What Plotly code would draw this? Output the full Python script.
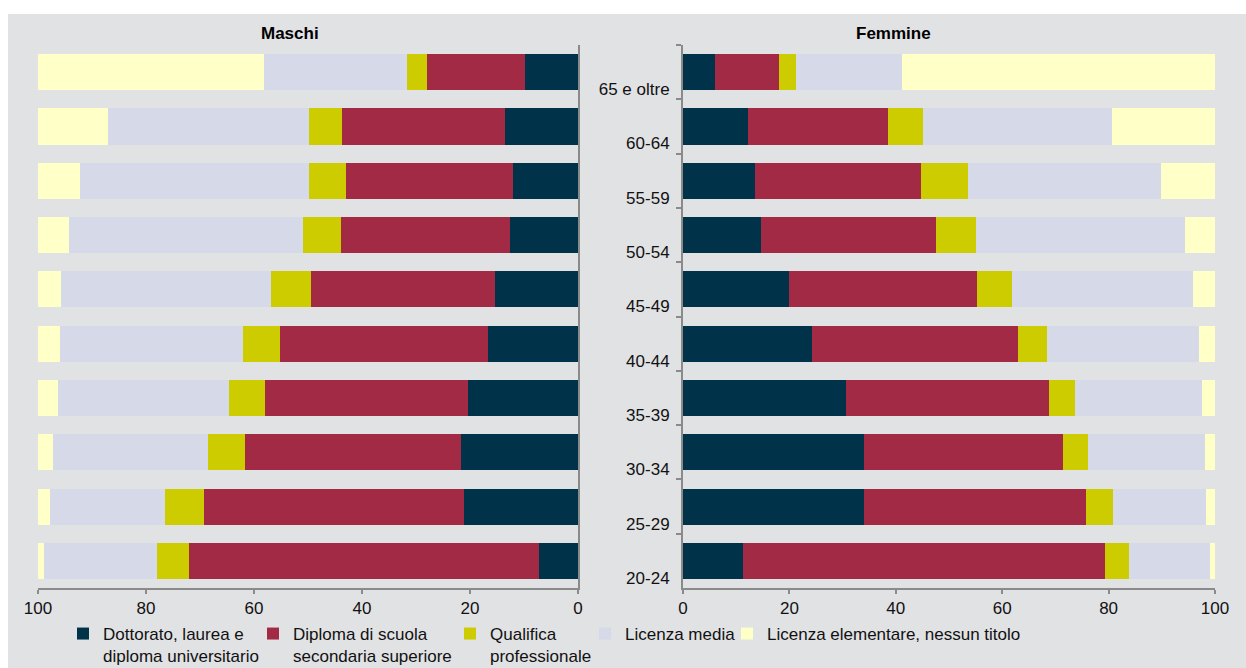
import plotly.graph_objects as go

# Age groups, top to bottom as in the chart
age_groups = ["65 e oltre", "60-64", "55-59", "50-54", "45-49",
              "40-44", "35-39", "30-34", "25-29", "20-24"]

series_names = [
    "Dottorato, laurea e<br>diploma universitario",
    "Diploma di scuola<br>secondaria superiore",
    "Qualifica<br>professionale",
    "Licenza media",
    "Licenza elementare, nessun titolo",
]
series_colors = ["#00324a", "#a32a44", "#cccc00", "#d6d9e8", "#ffffc8"]

# Maschi (percent)
m_dottorato = [9.9, 13.5, 12.1, 12.6, 15.3, 16.7, 20.4, 21.6, 21.2, 7.2]
m_diploma = [18.1, 30.2, 30.9, 31.3, 34.1, 38.5, 37.5, 40.1, 48.1, 64.8]
m_qualifica = [3.7, 6.2, 6.8, 7.0, 7.5, 6.9, 6.7, 6.9, 7.2, 5.9]
m_media = [26.4, 37.1, 42.5, 43.4, 38.9, 33.9, 31.7, 28.7, 21.3, 21.0]
m_elementare = [41.9, 13.0, 7.7, 5.7, 4.2, 4.0, 3.7, 2.7, 2.2, 1.1]

# Femmine (percent)
f_dottorato = [6.0, 12.3, 13.5, 14.7, 19.9, 24.3, 30.6, 34.0, 34.0, 11.2]
f_diploma = [12.1, 26.2, 31.2, 32.9, 35.4, 38.6, 38.2, 37.4, 41.7, 68.1]
f_qualifica = [3.2, 6.7, 8.8, 7.5, 6.6, 5.5, 4.8, 4.8, 5.1, 4.5]
f_media = [19.9, 35.4, 36.3, 39.2, 33.9, 28.6, 23.9, 21.9, 17.6, 15.3]
f_elementare = [58.8, 19.4, 10.2, 5.7, 4.2, 3.0, 2.5, 1.9, 1.6, 0.9]

x_ticks = [0, 20, 40, 60, 80, 100]

maschi = [m_dottorato, m_diploma, m_qualifica, m_media, m_elementare]
femmine = [f_dottorato, f_diploma, f_qualifica, f_media, f_elementare]

W, H = 1246, 668
ML, MR, MT, MB = 38, 31, 45, 80
PW = W - ML - MR
PH = H - MT - MB

def px_x(p):
    return (p - ML) / PW

def px_y(p):
    return 1 - (p - MT) / PH

BG = "#e1e2e4"
AX = "#8a8a8a"
FONT = "Liberation Sans, Arial, sans-serif"

# where the legend texts start (pixels) in the original layout
legend_text_x = [104, 294, 491, 626, 768]
legend_ids = ["legend", "legend2", "legend3", "legend4", "legend5"]

fig = go.Figure()
for i, (name, color) in enumerate(zip(series_names, series_colors)):
    fig.add_trace(go.Bar(
        y=age_groups, x=maschi[i], name=name, orientation="h",
        marker=dict(color=color, line=dict(width=0)),
        xaxis="x", yaxis="y", showlegend=False,
    ))
for i, (name, color) in enumerate(zip(series_names, series_colors)):
    fig.add_trace(go.Bar(
        y=age_groups, x=femmine[i], name=name, orientation="h",
        marker=dict(color=color, line=dict(width=0)),
        xaxis="x2", yaxis="y2", showlegend=True, legend=legend_ids[i],
    ))

tickfont = dict(family=FONT, size=17, color="#111111")

legends = {}
for lid, tx in zip(legend_ids, legend_text_x):
    legends[lid] = dict(
        orientation="h", x=px_x(tx - 41), xanchor="left",
        y=px_y(616), yanchor="top", valign="top",
        font=dict(family=FONT, size=17, color="#111111"),
        bgcolor="rgba(0,0,0,0)", itemclick=False, itemdoubleclick=False,
    )

fig.update_layout(
    width=W, height=H,
    margin=dict(l=ML, r=MR, t=MT, b=MB, pad=0, autoexpand=False),
    paper_bgcolor=BG, plot_bgcolor=BG,
    barmode="stack", bargap=0.335,
    font=dict(family=FONT, size=17, color="#111111"),
    xaxis=dict(domain=[0, px_x(578)], range=[100, 0], tickvals=x_ticks,
               showgrid=False, zeroline=False, showline=True, linecolor=AX,
               linewidth=2, ticks="outside", ticklen=4, tickcolor=AX,
               tickwidth=2, tickfont=tickfont, anchor="y", fixedrange=True),
    yaxis=dict(domain=[0, 1], anchor="x", side="right", showline=True,
               linecolor=AX, linewidth=2, showticklabels=False, ticks="",
               showgrid=False, zeroline=False, autorange="reversed",
               type="category"),
    xaxis2=dict(domain=[px_x(683), 1], range=[0, 100], tickvals=x_ticks,
                showgrid=False, zeroline=False, showline=True, linecolor=AX,
                linewidth=2, ticks="outside", ticklen=4, tickcolor=AX,
                tickwidth=2, tickfont=tickfont, anchor="y2"),
    yaxis2=dict(domain=[0, 1], anchor="x2", side="left", showline=True,
                linecolor=AX, linewidth=2, ticks="outside", ticklen=5,
                tickcolor=AX, tickwidth=2, tickson="boundaries",
                ticklabelshift=-17, ticklabelstandoff=8,
                showgrid=False, zeroline=False, autorange="reversed",
                type="category", tickfont=tickfont),
    annotations=[
        dict(text="<b>Maschi</b>", x=px_x(290), y=px_y(33), xref="paper",
             yref="paper", showarrow=False, xanchor="center", yanchor="middle",
             font=dict(family=FONT, size=17, color="#000000")),
        dict(text="<b>Femmine</b>", x=px_x(893), y=px_y(34), xref="paper",
             yref="paper", showarrow=False, xanchor="center", yanchor="middle",
             font=dict(family=FONT, size=17, color="#000000")),
    ],
    shapes=[
        dict(type="rect", xref="paper", yref="paper", x0=px_x(-2), x1=px_x(W + 2),
             y0=px_y(14), y1=px_y(-2), fillcolor="#ffffff", line=dict(width=0),
             layer="above"),
        dict(type="rect", xref="paper", yref="paper", x0=px_x(-2), x1=px_x(8),
             y0=px_y(H + 2), y1=px_y(-2), fillcolor="#ffffff", line=dict(width=0),
             layer="above"),
    ],
    **legends,
)

fig.write_html("out.html", config={"displayModeBar": False})
